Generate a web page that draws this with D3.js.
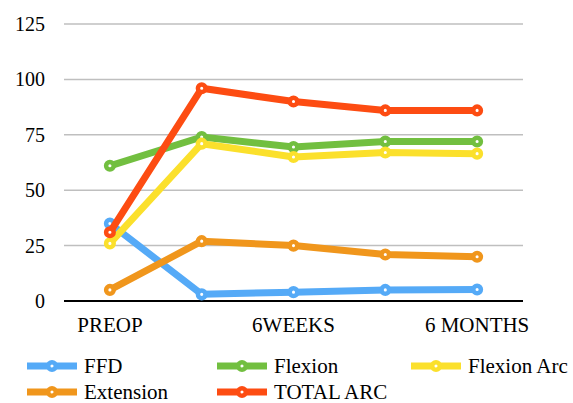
<!DOCTYPE html>
<html>
<head>
<meta charset="utf-8">
<script src="https://cdn.jsdelivr.net/npm/d3@7"></script>
<style>
  body { margin: 0; background: #fff; }
</style>
</head>
<body>
<div id="chart"></div>
<script>
// categories (only every other one is labelled in the original)
const categories = ['PREOP', '3WEEKS', '6WEEKS', '3 MONTHS', '6 MONTHS'];
const yTicks = [0, 25, 50, 75, 100, 125];

const ffd = [35, 3, 4, 5, 5.2];
const flexion = [61, 74, 69.5, 72, 72];
const flexionArc = [26, 71, 65, 67, 66.5];
const extension = [5, 27, 25, 21, 20];
const totalArc = [31, 96, 90, 86, 86];

const seriesNames = ['FFD', 'Flexion', 'Flexion Arc', 'Extension', 'TOTAL ARC'];
const seriesColors = ['#55aaf7', '#72bf40', '#fbe02c', '#f0961c', '#fd4c12'];
const seriesValues = [ffd, flexion, flexionArc, extension, totalArc];

const FONT = "'Liberation Serif', 'DejaVu Serif', serif";
const W = 573, H = 403;
const margin = { left: 64, right: 50, top: 24, bottom: 102 };

const svg = d3.select('#chart').append('svg')
    .attr('width', W)
    .attr('height', H)
    .attr('font-family', FONT);

const x = d3.scaleBand()
    .domain(categories)
    .range([margin.left, W - margin.right]);

const y = d3.scaleLinear()
    .domain([0, 125])
    .range([H - margin.bottom, margin.top]);

// gridlines
svg.append('g')
    .selectAll('line')
    .data(yTicks.filter(d => d > 0))
    .enter()
    .append('line')
    .attr('x1', margin.left)
    .attr('x2', W - margin.right)
    .attr('y1', d => y(d))
    .attr('y2', d => y(d))
    .attr('stroke', '#bfbfbf')
    .attr('stroke-width', 1.5);

// y labels
svg.append('g')
    .selectAll('text')
    .data(yTicks)
    .enter()
    .append('text')
    .attr('x', 45)
    .attr('y', d => y(d) + 7)
    .attr('text-anchor', 'end')
    .style('font-family', FONT)
    .style('font-size', '20px')
    .text(d => d);

// x axis line
svg.append('line')
    .attr('x1', margin.left)
    .attr('x2', W - margin.right)
    .attr('y1', y(0))
    .attr('y2', y(0))
    .attr('stroke', '#000')
    .attr('stroke-width', 2);

// x labels, every other category
svg.append('g')
    .selectAll('text')
    .data(categories.filter((d, i) => i % 2 === 0))
    .enter()
    .append('text')
    .attr('x', d => x(d) + x.bandwidth() / 2)
    .attr('y', 332)
    .attr('text-anchor', 'middle')
    .style('font-family', FONT)
    .style('font-size', '21px')
    .text(d => d);

const line = d3.line()
    .x((d, i) => x(categories[i]) + x.bandwidth() / 2)
    .y(d => y(d));

seriesValues.forEach((vals, s) => {
    const g = svg.append('g');
    g.append('path')
        .attr('d', line(vals))
        .attr('fill', 'none')
        .attr('stroke', seriesColors[s])
        .attr('stroke-width', 7)
        .attr('stroke-linejoin', 'round');
    g.selectAll('circle')
        .data(vals)
        .enter()
        .append('circle')
        .attr('cx', (d, i) => x(categories[i]) + x.bandwidth() / 2)
        .attr('cy', d => y(d))
        .attr('r', 3.8)
        .attr('fill', '#fff')
        .attr('stroke', seriesColors[s])
        .attr('stroke-width', 4.5);
});

// legend
const legendPos = [[27, 366], [217, 366], [411, 366], [27, 392], [217, 392]];
seriesNames.forEach((name, s) => {
    const [lx, ly] = legendPos[s];
    const lg = svg.append('g').attr('transform', `translate(${lx}, ${ly})`);
    lg.append('line')
        .attr('x1', 0)
        .attr('x2', 50)
        .attr('y1', 0)
        .attr('y2', 0)
        .attr('stroke', seriesColors[s])
        .attr('stroke-width', 7);
    lg.append('circle')
        .attr('cx', 25)
        .attr('cy', 0)
        .attr('r', 3.8)
        .attr('fill', '#fff')
        .attr('stroke', seriesColors[s])
        .attr('stroke-width', 4.5);
    lg.append('text')
        .attr('x', 57)
        .attr('y', 7)
        .style('font-family', FONT)
        .style('font-size', '21px')
        .text(name);
});
</script>
</body>
</html>
